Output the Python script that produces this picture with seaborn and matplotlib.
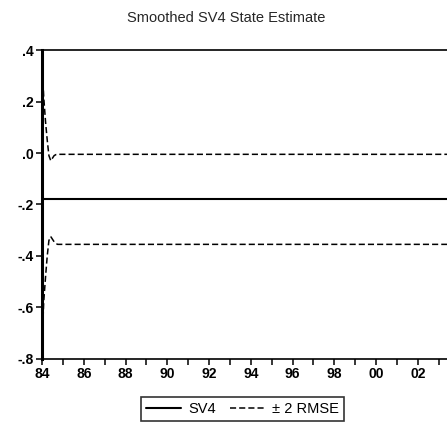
import numpy as np
import pandas as pd
import matplotlib
matplotlib.use("Agg")
import matplotlib.pyplot as plt
import seaborn as sns

# monthly observations near the start, then flat to the end of sample
dates = [1984.00, 1984.08, 1984.17, 1984.25, 1984.33, 1984.42, 1984.50,
         1984.58, 1984.67, 1984.75, 1985.00, 2003.92]
sv4 = [-0.18, -0.18, -0.18, -0.18, -0.18, -0.18, -0.18,
       -0.18, -0.18, -0.18, -0.18, -0.18]
upper = [0.35, 0.22, 0.12, 0.05, -0.01, -0.03, -0.02,
         -0.01, -0.006, -0.005, -0.005, -0.005]
lower = [-0.75, -0.58, -0.48, -0.40, -0.34, -0.325, -0.335,
         -0.345, -0.352, -0.355, -0.355, -0.355]

year_ticks = list(range(1984, 2004))
year_labels = ['84', '', '86', '', '88', '', '90', '', '92', '', '94', '',
               '96', '', '98', '', '00', '', '02', '']
y_ticks = [0.4, 0.2, 0.0, -0.2, -0.4, -0.6, -0.8]
y_labels = ['.4', '.2', '.0', '-.2', '-.4', '-.6', '-.8']

sns.set_style("ticks")
plt.rcParams['font.family'] = ['Liberation Sans', 'DejaVu Sans']

fig = plt.figure(figsize=(4.47, 4.36), dpi=100)
ax = fig.add_axes([0.094, 0.177, 0.906, 0.708])

df = pd.DataFrame({'date': dates, 'sv4': sv4, 'upper': upper, 'lower': lower})

sns.lineplot(data=df, x='date', y='sv4', ax=ax, color='black', lw=1.5, label='SV4')
sns.lineplot(data=df, x='date', y='upper', ax=ax, color='black', lw=1.1,
             linestyle=(0, (4, 2)), label='\u00b1 2 RMSE')
sns.lineplot(data=df, x='date', y='lower', ax=ax, color='black', lw=1.1,
             linestyle=(0, (4, 2)))

ax.set_xlim(1984, 2003.4)
ax.set_ylim(-0.8, 0.4)
ax.set_xlabel('')
ax.set_ylabel('')

ax.set_xticks(year_ticks, year_labels, fontsize=10, fontweight='bold')
ax.set_yticks(y_ticks, y_labels, fontsize=10, fontweight='bold')

ax.tick_params(axis='both', which='major', direction='out', length=4, width=1.1,
               color='black', labelcolor='black', pad=2, bottom=True, left=True)

ax.spines['right'].set_visible(False)
ax.spines['top'].set_visible(True)
ax.spines['left'].set_linewidth(2.2)
ax.spines['top'].set_linewidth(1.2)
ax.spines['bottom'].set_linewidth(1.2)
for sp in ax.spines.values():
    sp.set_color('black')

fig.suptitle('Smoothed SV4 State Estimate', x=0.505, y=0.975, fontsize=10.5)

leg = ax.legend(loc='upper center', bbox_to_anchor=(0.5 - 0.005, -0.1), ncol=2,
                frameon=True, fancybox=False, edgecolor='black', fontsize=10.5,
                handlelength=2.4, columnspacing=1.0, borderpad=0.35, handletextpad=0.5)
leg.get_frame().set_linewidth(1.2)
for t in leg.get_texts():
    t.set_color('black')

fig.savefig('out.png', dpi=100)
